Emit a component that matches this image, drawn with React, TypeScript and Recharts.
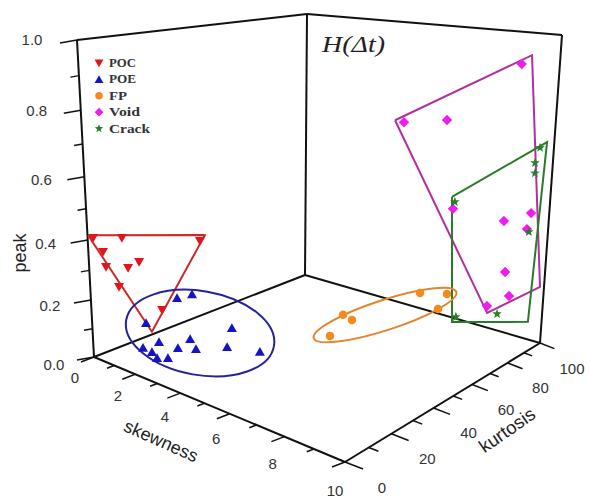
import React from "react";
import { ScatterChart, Scatter, XAxis, YAxis, ReferenceLine, Customized } from "recharts";

// ---------- data: [skewness, kurtosis, peak] ----------
type V3 = [number, number, number];

const POC: V3[] = [
  [0.27, 0, 0.412], [1.64, 0, 0.441], [4.95, 0, 0.504], [0.72, 0, 0.377], [0.83, 0, 0.33],
  [1.87, 0, 0.351], [2.38, 0, 0.382], [1.41, 0, 0.279], [3.32, 0, 0.253],
];
const POE: V3[] = [
  [3.97, 0, 0.308], [4.59, 0, 0.336], [2.59, 0, 0.191], [6.12, 0, 0.274], [3.14, 0, 0.144],
  [4.47, 0, 0.192], [2.41, 0, 0.103], [3.95, 0, 0.148], [4.7, 0, 0.167], [5.93, 0, 0.21],
  [7.14, 0, 0.232], [2.81, 0, 0.101], [3.03, 0, 0.087], [3.51, 0, 0.102],
];
const FP: V3[] = [
  [6.56, 83.6, 0.139], [6.56, 100, 0.085], [6.56, 94.8, 0.043],
  [6.56, 43.0, 0.189], [6.56, 47.4, 0.157], [6.56, 36.9, 0.138],
];
const VOID: V3[] = [
  [8.78, 100, 0.905], [4.53, 100, 0.672], [6.24, 100, 0.701], [6.63, 100, 0.402], [8.51, 100, 0.397],
  [9.41, 100, 0.442], [9.31, 100, 0.386], [8.66, 100, 0.221], [8.85, 100, 0.139], [8.09, 100, 0.081],
];
const CRACK: V3[] = [
  [9.56, 100, 0.657], [9.43, 100, 0.607], [9.45, 100, 0.574], [6.69, 100, 0.428],
  [9.38, 100, 0.378], [8.47, 100, 0.062], [6.95, 100, 0.007],
];

// group outlines (in data space)
const POC_OUTLINE: V3[] = [[0.03, 0, 0.416], [5.15, 0, 0.526], [2.84, 0, 0.169], [0.03, 0, 0.416]];
const VOID_OUTLINE: V3[] = [[4.15, 100, 0.674], [9.1, 100, 0.934], [9.87, 100, 0.199], [8.11, 100, 0.055], [4.15, 100, 0.674]];
const CRACK_OUTLINE: V3[] = [[6.57, 100, 0.443], [9.77, 100, 0.678], [9.55, 100, 0.064], [6.81, 100, -0.017], [6.57, 100, 0.443]];
const POE_CENTER: V3 = [4.88, 0, 0.223];
const FP_CENTER: V3 = [6.56, 64.4, 0.119];

// tick labels
const SKEW_TICKS = [0, 1, 2, 3, 4, 5, 6, 7, 8, 9, 10];
const SKEW_LABELS = [0, 2, 4, 6, 8, 10];
const KURT_TICKS = [0, 10, 20, 30, 40, 50, 60, 70, 80, 90, 100];
const KURT_LABELS = [0, 20, 40, 60, 80, 100];
const PEAK_TICKS = [0, 0.1, 0.2, 0.3, 0.4, 0.5, 0.6, 0.7, 0.8, 0.9, 1.0];
const PEAK_LABELS = [0, 0.2, 0.4, 0.6, 0.8, 1.0];

// ---------- 3D box projection ----------
const W = 590, H = 497;
const FLOOR = { o: [94, 357], s: [345, 462], sk: [540, 343], k: [305, 275] };
const TOP = { o: [77, 40], s: [351, 85], sk: [562, 35], k: [307, 14] };
const PERSP = { s: -0.214, k: 0.247, p: -0.1225 };

const warp = (t: number, g: number) => (t * (1 + g)) / (1 + g * t);
function bil(q: any, u: number, v: number) {
  const f = (i: number) =>
    q.o[i] * (1 - u) * (1 - v) + q.s[i] * u * (1 - v) + q.sk[i] * u * v + q.k[i] * (1 - u) * v;
  return [f(0), f(1)];
}
function project(s: number, k: number, p: number) {
  const u = warp(s / 10, PERSP.s), v = warp(k / 100, PERSP.k), w = warp(p, PERSP.p);
  const f = bil(FLOOR, u, v), t = bil(TOP, u, v);
  return { x: f[0] + w * (t[0] - f[0]), y: f[1] + w * (t[1] - f[1]) };
}
const pts = (arr: V3[]) => arr.map(([s, k, p]) => ({ ...project(s, k, p), s, k, p }));

// ---------- frame & ticks ----------
type Seg = { a: { x: number; y: number }; b: { x: number; y: number }; w: number };
const segs: Seg[] = [];
const edge = (p1: V3, p2: V3) => segs.push({ a: project(...p1), b: project(...p2), w: 2 });
edge([0, 0, 0], [10, 0, 0]);
edge([10, 0, 0], [10, 100, 0]);
edge([0, 0, 0], [0, 100, 0]);
edge([0, 100, 0], [10, 100, 0]);
edge([0, 0, 0], [0, 0, 1]);
edge([0, 100, 0], [0, 100, 1]);
edge([10, 100, 0], [10, 100, 1]);
edge([0, 0, 1], [0, 100, 1]);
edge([0, 100, 1], [10, 100, 1]);

SKEW_TICKS.forEach((s) => {
  const a = project(s, 0, 0);
  const m = SKEW_LABELS.includes(s) ? 1 : 0.55;
  segs.push({ a, b: { x: a.x - 13 * m, y: a.y + 5 * m }, w: 1.5 });
});
KURT_TICKS.forEach((k) => {
  const a = project(10, k, 0);
  const m = (KURT_LABELS.includes(k) ? 1 : 0.55) * (1 - 0.2 * k / 100);
  segs.push({ a, b: { x: a.x + 18 * m, y: a.y + 7 * m }, w: 1.5 });
});
PEAK_TICKS.forEach((p) => {
  const a = project(0, 0, p);
  const m = PEAK_LABELS.some((q) => Math.abs(q - p) < 1e-6) ? 1 : 0.5;
  segs.push({ a, b: { x: a.x - 17 * m, y: a.y + 3 * m }, w: 1.5 });
});

const tickLabels = [
  ...SKEW_LABELS.map((s) => {
    const a = project(s, 0, 0), t = s / 10;
    return { x: a.x - 19 + 9 * t, y: a.y + 20 + 8 * t, label: String(s) };
  }),
  ...KURT_LABELS.map((k) => {
    const a = project(10, k, 0), t = k / 100;
    return { x: a.x + 37 - 5 * t, y: a.y + 25, label: String(k) };
  }),
  ...PEAK_LABELS.map((p) => {
    const a = project(0, 0, p);
    return { x: a.x - 40 - 5 * p, y: a.y + 7 - 8 * p, label: p.toFixed(1) };
  }),
];

// ---------- marker shapes ----------
const C = {
  poc: "#e3141c", poe: "#1414c4", fp: "#f28a1e", void: "#ee1cee", crack: "#2a7d2a",
  pocLine: "#cc2a2a", poeLine: "#23239a", fpLine: "#e3842e", voidLine: "#b2309e", crackLine: "#2a7a2a",
};
const drawMarker = (kind: string, cx: number, cy: number, r = 5) => {
  switch (kind) {
    case "poc":
      return <polygon points={`${cx - r},${cy - r * 0.8} ${cx + r},${cy - r * 0.8} ${cx},${cy + r * 0.95}`} fill={C.poc} />;
    case "poe":
      return <polygon points={`${cx - r},${cy + r * 0.8} ${cx + r},${cy + r * 0.8} ${cx},${cy - r * 0.95}`} fill={C.poe} />;
    case "fp":
      return <circle cx={cx} cy={cy} r={r * 0.85} fill={C.fp} />;
    case "void":
      return <polygon points={`${cx},${cy - r} ${cx + r},${cy} ${cx},${cy + r} ${cx - r},${cy}`} fill={C.void} />;
    default: {
      const p: string[] = [];
      for (let i = 0; i < 10; i++) {
        const rr = i % 2 === 0 ? r : r * 0.42;
        const a = -Math.PI / 2 + (i * Math.PI) / 5;
        p.push(`${cx + rr * Math.cos(a)},${cy + rr * Math.sin(a)}`);
      }
      return <polygon points={p.join(" ")} fill={C.crack} />;
    }
  }
};
const shapeOf = (kind: string, r = 5) => (props: any) =>
  props.cx == null ? <g /> : drawMarker(kind, props.cx, props.cy, r);
const noShape = () => <g />;
const textShape = (props: any) =>
  props.cx == null ? <g /> : (
    <text x={props.cx} y={props.cy} textAnchor="middle" dominantBaseline="central"
      fontFamily="'Liberation Sans', Arial, sans-serif" fontSize={15} fill="#333">
      {props.payload.label}
    </text>
  );
const ellipseShape = (rx: number, ry: number, angle: number, color: string) => (props: any) =>
  props.cx == null ? <g /> : (
    <ellipse cx={props.cx} cy={props.cy} rx={rx} ry={ry} fill="none" stroke={color} strokeWidth={2}
      transform={`rotate(${angle} ${props.cx} ${props.cy})`} />
  );

const LEGEND = [
  { kind: "poc", name: "POC", len: 27 },
  { kind: "poe", name: "POE", len: 27 },
  { kind: "fp", name: "FP", len: 18 },
  { kind: "void", name: "Void", len: 31 },
  { kind: "crack", name: "Crack", len: 41 },
];

const Overlay = () => (
  <g>
    <text x={322} y={52} fontFamily="'Liberation Serif', 'Times New Roman', serif" fontStyle="italic"
      fontSize={23} fill="#222" textLength={63} lengthAdjust="spacingAndGlyphs">H(Δt)</text>
    <text x={0} y={0} transform="translate(20 253) rotate(-90)" textAnchor="middle" dominantBaseline="central"
      fontFamily="'Liberation Sans', Arial, sans-serif" fontSize={18} fill="#222">peak</text>
    <text x={0} y={0} transform="translate(161 441) rotate(24)" textAnchor="middle" dominantBaseline="central"
      fontFamily="'Liberation Sans', Arial, sans-serif" fontSize={18} fill="#222">skewness</text>
    <text x={0} y={0} transform="translate(507 430) rotate(-35)" textAnchor="middle" dominantBaseline="central"
      fontFamily="'Liberation Sans', Arial, sans-serif" fontSize={18.5} fill="#222">kurtosis</text>
    {LEGEND.map((it, i) => {
      const y = 63 + i * 16.4;
      return (
        <g key={it.name}>
          {drawMarker(it.kind, 99, y, 4.4)}
          <text x={109} y={y + 4} fontFamily="'Liberation Serif', 'Times New Roman', serif" fontWeight="bold"
            fontSize={12} fill="#333" textLength={it.len} lengthAdjust="spacingAndGlyphs">
            {it.name}
          </text>
        </g>
      );
    })}
  </g>
);

export default function App() {
  return (
    <div style={{ position: "absolute", left: 0, top: 0, width: W, height: H, background: "#fff" }}>
      <ScatterChart width={W} height={H} margin={{ top: 0, right: 0, bottom: 0, left: 0 }}>
        <XAxis type="number" dataKey="x" domain={[0, W]} hide allowDataOverflow />
        <YAxis type="number" dataKey="y" domain={[0, H]} reversed hide allowDataOverflow />
        {segs.map((sg, i) => (
          <ReferenceLine key={i} segment={[sg.a, sg.b]} stroke="#111" strokeWidth={sg.w} ifOverflow="visible" />
        ))}
        <Scatter data={pts(POC_OUTLINE)} shape={noShape} line={{ stroke: C.pocLine, strokeWidth: 2, strokeLinejoin: "round" }} isAnimationActive={false} />
        <Scatter data={pts(VOID_OUTLINE)} shape={noShape} line={{ stroke: C.voidLine, strokeWidth: 2 }} isAnimationActive={false} />
        <Scatter data={pts(CRACK_OUTLINE)} shape={noShape} line={{ stroke: C.crackLine, strokeWidth: 2 }} isAnimationActive={false} />
        <Scatter data={pts([POE_CENTER])} shape={ellipseShape(75, 42, 10, C.poeLine)} isAnimationActive={false} />
        <Scatter data={pts([FP_CENTER])} shape={ellipseShape(75, 15, -18, C.fpLine)} isAnimationActive={false} />
        <Scatter name="POC" data={pts(POC)} shape={shapeOf("poc")} isAnimationActive={false} />
        <Scatter name="POE" data={pts(POE)} shape={shapeOf("poe")} isAnimationActive={false} />
        <Scatter name="FP" data={pts(FP)} shape={shapeOf("fp")} isAnimationActive={false} />
        <Scatter name="Void" data={pts(VOID)} shape={shapeOf("void", 5.2)} isAnimationActive={false} />
        <Scatter name="Crack" data={pts(CRACK)} shape={shapeOf("crack", 5)} isAnimationActive={false} />
        <Scatter data={tickLabels} shape={textShape} isAnimationActive={false} />
        <Customized component={Overlay} />
      </ScatterChart>
    </div>
  );
}
